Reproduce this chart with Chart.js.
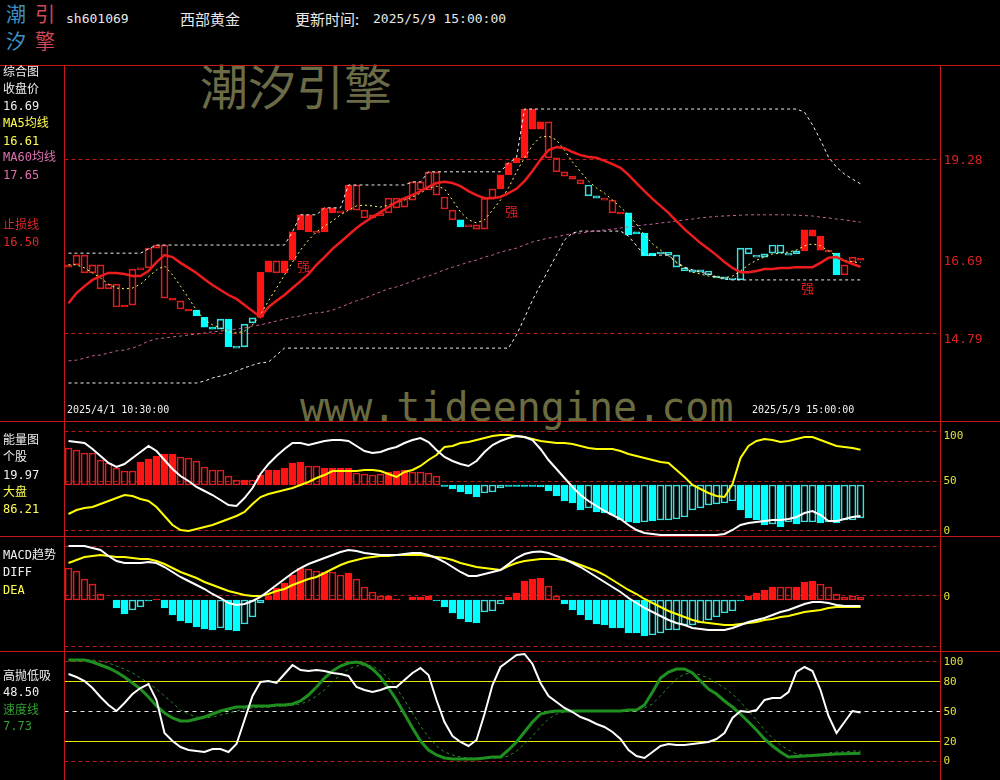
<!DOCTYPE html>
<html lang="zh-CN">
<head>
<meta charset="utf-8">
<title>西部黄金 sh601069</title>
<script src="https://cdn.jsdelivr.net/npm/chart.js@4.4.1/dist/chart.umd.min.js"></script>
<style>
  html, body { margin:0; padding:0; background:#000; }
  #wrap { position:relative; width:1000px; height:780px; overflow:hidden; background:#000;
          font-family:"DejaVu Sans Mono","Noto Sans CJK SC",monospace; }
  #wrap canvas { position:absolute; left:0; }
  .t { position:absolute; white-space:nowrap; line-height:1; }
  .lb { font-size:12px; left:3px; }
  .cjk { font-family:"Noto Sans CJK SC",sans-serif; }
  .hl { position:absolute; left:0; width:1000px; height:1px; background:#c81818; }
  .vl { position:absolute; top:65px; width:1px; height:715px; background:#c81818; }
</style>
</head>
<body>
<div id="wrap">
  <!-- watermarks, under the charts -->
  <div class="t cjk" style="left:200px;top:60px;font-size:48px;color:#6b6b48">潮汐引擎</div>
  <div class="t" style="left:300px;top:387px;font-size:40px;color:#6b6b40">www.tideengine.com</div>

  <canvas id="cPrice" width="1000" height="355" style="top:65px"></canvas>
  <canvas id="cEnergy" width="1000" height="115" style="top:421px"></canvas>
  <canvas id="cMacd" width="1000" height="115" style="top:536px"></canvas>
  <canvas id="cKd" width="1000" height="129" style="top:651px"></canvas>

  <!-- frame -->
  <div class="hl" style="top:65px"></div>
  <div class="hl" style="top:421px"></div>
  <div class="hl" style="top:536px"></div>
  <div class="hl" style="top:651px"></div>
  <div class="vl" style="left:64px"></div>
  <div class="vl" style="left:940px"></div>

  <!-- header -->
  <div class="t cjk" style="left:6px;top:4px;font-size:20px;color:#3d8fc6">潮</div>
  <div class="t cjk" style="left:35px;top:4px;font-size:20px;color:#d04858">引</div>
  <div class="t cjk" style="left:6px;top:31px;font-size:20px;color:#3d8fc6">汐</div>
  <div class="t cjk" style="left:35px;top:31px;font-size:20px;color:#d04858">擎</div>
  <div class="t" style="left:66px;top:12px;font-size:13px;color:#e8e8e8">sh601069</div>
  <div class="t cjk" style="left:180px;top:11px;font-size:15px;color:#e8e8e8">西部黄金</div>
  <div class="t cjk" style="left:295px;top:11px;font-size:15px;color:#e8e8e8">更新时间:</div>
  <div class="t" style="left:373px;top:12px;font-size:13px;color:#e8e8e8">2025/5/9 15:00:00</div>

  <!-- price panel labels -->
  <div class="t lb" style="top:66px;color:#f0f0f0">综合图</div>
  <div class="t lb" style="top:83px;color:#f0f0f0">收盘价</div>
  <div class="t lb" style="top:100px;color:#f0f0f0">16.69</div>
  <div class="t lb" style="top:117px;color:#ffff50">MA5均线</div>
  <div class="t lb" style="top:135px;color:#ffff50">16.61</div>
  <div class="t lb" style="top:151px;color:#e070b0">MA60均线</div>
  <div class="t lb" style="top:169px;color:#e070b0">17.65</div>
  <div class="t lb" style="top:219px;color:#e02828">止损线</div>
  <div class="t lb" style="top:236px;color:#e02828">16.50</div>
  <div class="t" style="left:67px;top:405px;font-size:10px;color:#f0f0f0">2025/4/1 10:30:00</div>
  <div class="t" style="left:752px;top:405px;font-size:10px;color:#f0f0f0">2025/5/9 15:00:00</div>
  <div class="t cjk" style="left:297px;top:259px;font-size:13px;color:#e02020">强</div>
  <div class="t cjk" style="left:505px;top:204px;font-size:13px;color:#e02020">强</div>
  <div class="t cjk" style="left:801px;top:281px;font-size:13px;color:#e02020">强</div>

  <!-- energy labels -->
  <div class="t lb" style="top:434px;color:#f0f0f0">能量图</div>
  <div class="t lb" style="top:451px;color:#f0f0f0">个股</div>
  <div class="t lb" style="top:469px;color:#f0f0f0">19.97</div>
  <div class="t lb" style="top:486px;color:#ffff50">大盘</div>
  <div class="t lb" style="top:503px;color:#ffff50">86.21</div>

  <!-- macd labels -->
  <div class="t lb" style="top:549px;color:#f0f0f0">MACD趋势</div>
  <div class="t lb" style="top:566px;color:#f0f0f0">DIFF</div>
  <div class="t lb" style="top:584px;color:#ffff50">DEA</div>

  <!-- kd labels -->
  <div class="t lb" style="top:670px;color:#f0f0f0">高抛低吸</div>
  <div class="t lb" style="top:686px;color:#f0f0f0">48.50</div>
  <div class="t lb" style="top:704px;color:#30a030">速度线</div>
  <div class="t lb" style="top:720px;color:#30a030">7.73</div>
</div>

<script>
// ---- price panel (hourly bars 2025/4/1 10:30 .. 2025/5/9 15:00) ----
const bodyHi = [16.55,16.80,16.80,16.55,16.55,16.05,16.05,15.51,16.44,16.47,
  16.98,17.06,17.06,15.69,15.62,15.41,15.38,15.20,14.94,15.15,
  15.15,14.45,15.02,15.18,16.36,16.65,16.65,16.65,17.40,17.84,
  17.84,17.42,18.02,18.02,17.94,18.61,18.61,17.96,17.84,17.89,
  18.27,18.27,18.27,18.69,18.69,18.95,18.95,18.30,17.96,17.71,
  17.58,17.58,18.27,18.51,18.87,19.18,19.31,20.57,20.57,20.24,
  20.24,19.31,18.95,18.84,18.74,18.61,18.33,18.27,18.22,17.91,
  17.89,17.40,17.37,16.85,16.88,16.88,16.80,16.47,16.42,16.42,
  16.39,16.26,16.24,16.21,16.98,16.98,16.80,16.83,17.06,17.06,
  16.85,16.91,17.45,17.45,17.29,16.93,16.85,16.55,16.75,16.72];
const bodyLo = [16.49,16.55,16.34,16.34,15.93,15.93,15.46,15.46,15.51,16.42,
  16.47,16.98,15.69,15.64,15.41,15.36,15.23,14.94,14.89,14.89,
  14.43,14.40,14.43,15.05,15.20,16.36,16.34,16.34,16.67,17.45,
  17.40,17.37,17.40,17.89,17.89,17.96,17.96,17.76,17.76,17.81,
  17.89,18.02,18.04,18.22,18.48,18.48,18.35,17.99,17.71,17.53,
  17.53,17.47,17.47,18.27,18.51,18.87,19.18,19.31,20.05,20.05,
  19.31,18.95,18.84,18.76,18.64,18.33,18.27,18.22,17.89,17.86,
  17.32,17.35,16.78,16.78,16.83,16.80,16.49,16.39,16.36,16.36,
  16.29,16.21,16.18,16.16,16.16,16.83,16.75,16.75,16.85,16.85,
  16.80,16.83,16.91,17.29,16.93,16.88,16.29,16.29,16.62,16.67];
// R filled red, r hollow red, C filled cyan, c hollow cyan
const candleStyle = 'rrrrrrrRrr' + 'rrrRrRCCCc' + 'CcccRRrRRR' + 'RrRRrRrrrr' + 'rrrrrrrrrC' +
                    'rrrrRRRRRR' + 'rrrrrccrrR' + 'CCCCcccccc' + 'cccccccccc' + 'ccRRRrCrrR';
const stopLine = [15.56,15.82,16.00,16.16,16.26,16.34,16.34,16.31,16.26,16.26,
  16.39,16.62,16.80,16.75,16.60,16.47,16.34,16.18,16.03,15.90,
  15.77,15.67,15.51,15.36,15.20,15.46,15.62,15.77,15.95,16.13,
  16.31,16.55,16.75,16.96,17.14,17.32,17.50,17.65,17.78,17.91,
  18.04,18.17,18.27,18.35,18.45,18.56,18.66,18.69,18.66,18.58,
  18.45,18.35,18.27,18.27,18.30,18.40,18.51,18.71,18.97,19.26,
  19.51,19.59,19.56,19.46,19.38,19.33,19.31,19.23,19.15,19.05,
  18.87,18.66,18.45,18.25,18.07,17.89,17.68,17.47,17.29,17.11,
  16.96,16.80,16.62,16.47,16.36,16.36,16.39,16.44,16.44,16.47,
  16.47,16.49,16.49,16.49,16.60,16.73,16.75,16.65,16.57,16.50];
const ma5 = [16.55,16.55,16.47,16.34,16.21,16.05,15.95,15.93,15.95,16.05,
  16.24,16.42,16.52,16.29,16.00,15.69,15.38,15.13,15.00,14.92,
  14.82,14.79,14.84,15.00,15.26,15.62,15.95,16.29,16.62,16.93,
  17.19,17.40,17.55,17.68,17.84,17.96,18.07,18.09,18.07,18.04,
  18.09,18.17,18.22,18.30,18.40,18.53,18.58,18.51,18.22,17.91,
  17.71,17.63,17.71,17.96,18.22,18.53,18.95,19.31,19.64,19.85,
  19.87,19.77,19.51,19.20,18.95,18.71,18.53,18.40,18.22,18.04,
  17.84,17.60,17.32,17.09,16.93,16.78,16.60,16.47,16.36,16.31,
  16.26,16.24,16.21,16.26,16.39,16.55,16.67,16.75,16.83,16.85,
  16.88,16.93,17.04,17.09,17.04,16.91,16.78,16.67,16.62,16.61];
const ma60 = [14.07,14.09,14.14,14.20,14.22,14.27,14.33,14.35,14.40,14.48,
  14.58,14.64,14.66,14.69,14.71,14.74,14.76,14.79,14.82,14.84,
  14.87,14.89,14.92,14.97,15.00,15.05,15.10,15.15,15.20,15.23,
  15.28,15.31,15.33,15.38,15.46,15.54,15.62,15.69,15.77,15.85,
  15.93,15.98,16.05,16.13,16.21,16.26,16.34,16.42,16.49,16.55,
  16.62,16.67,16.75,16.80,16.88,16.93,16.98,17.06,17.14,17.19,
  17.24,17.27,17.32,17.35,17.37,17.40,17.42,17.45,17.47,17.50,
  17.53,17.55,17.58,17.60,17.63,17.65,17.68,17.71,17.73,17.76,
  17.78,17.80,17.81,17.82,17.83,17.84,17.84,17.84,17.84,17.84,
  17.84,17.83,17.82,17.81,17.78,17.76,17.73,17.71,17.68,17.65];
const bandUp = [16.85,16.85,16.85,16.85,16.85,16.85,16.85,16.85,16.85,16.85,
  16.96,17.06,17.06,17.06,17.06,17.06,17.06,17.06,17.06,17.06,
  17.06,17.06,17.06,17.06,17.06,17.06,17.06,17.06,17.40,17.84,
  17.84,17.84,18.02,18.02,18.02,18.61,18.61,18.61,18.61,18.61,
  18.61,18.61,18.61,18.69,18.69,18.95,18.95,18.95,18.95,18.95,
  18.95,18.95,18.95,18.95,18.95,19.18,19.31,20.57,20.57,20.57,
  20.57,20.57,20.57,20.57,20.57,20.57,20.57,20.57,20.57,20.57,
  20.57,20.57,20.57,20.57,20.57,20.57,20.57,20.57,20.57,20.57,
  20.57,20.57,20.57,20.57,20.57,20.57,20.57,20.57,20.57,20.57,
  20.57,20.57,20.49,20.16,19.77,19.33,19.07,18.89,18.76,18.64];
const bandDn = [13.50,13.50,13.50,13.50,13.50,13.50,13.50,13.50,13.50,13.50,
  13.50,13.50,13.50,13.50,13.50,13.50,13.50,13.55,13.63,13.68,
  13.73,13.81,13.89,13.96,14.02,14.04,14.22,14.40,14.40,14.40,
  14.40,14.40,14.40,14.40,14.40,14.40,14.40,14.40,14.40,14.40,
  14.40,14.40,14.40,14.40,14.40,14.40,14.40,14.40,14.40,14.40,
  14.40,14.40,14.40,14.40,14.40,14.40,14.74,15.18,15.64,16.03,
  16.42,16.80,17.19,17.37,17.42,17.42,17.42,17.42,17.42,17.42,
  17.29,17.04,16.80,16.80,16.80,16.80,16.62,16.49,16.42,16.36,
  16.31,16.24,16.18,16.16,16.16,16.16,16.16,16.16,16.16,16.16,
  16.16,16.16,16.16,16.16,16.16,16.16,16.16,16.16,16.16,16.16];
const priceTicks = [14.61, 16.62, 19.23];
const priceTickLabels = ['14.79', '16.69', '19.28'];

// ---- energy panel ----
const energyBase = 51;
const energyBar = [88,86,83,83,76,73,68,65,65,74,
  77,80,82,82,79,78,75,69,66,66,
  60,56,56,56,61,66,66,68,73,74,
  70,70,68,68,68,68,63,62,61,62,
  64,65,66,64,64,63,60,49.5,47,44,
  42,39,43,44,48,49.5,49.5,49.7,49.5,49,
  45,40,35,33,26,28,24,23,21,16,
  14,13,14,15,16,16,17,19,26,28,
  31,32,33,35,26,18,16,11,12,9,
  14,12,14,14,13,14,13,16,16,18];
const energyStyle = 'rrrrrrrrrR' + 'RRRRrrrrrr' + 'rrRrRRRRRR' + 'rrRRRRrrrr' + 'RRRrrrrCCC' +
                    'CCcccCCCCC' + 'CCCCCcCCCC' + 'CCcCcccccc' + 'ccccCCCCcC' + 'cCccCcCccc';
const stockLine = [95,94,93,87,80,73,69,72,78,84,
  90,85,76,67,60,55,49,45,41,36,
  31,30,38,48,62,72,80,87,93,93,
  91,93,95,96,96,95,90,85,83,84,
  87,89,93,96,98,94,86,79,75,72,
  70,75,84,91,95,98,100,99,96,87,
  76,67,58,49,41,35,30,25,21,17,
  11,6,3,2,1,1,1,1,1,1,
  1,1,2,6,11,13,14,15,16,16,
  17,19,23,25,21,15,15,17,19,19.97];
const marketLine = [22,26,28,29,32,35,38,41,40,37,
  35,29,20,11,6,5,7,9,11,14,
  17,20,24,32,39,42,44,46,48,51,
  54,58,61,65,65,65,65,66,66,65,
  62,59,64,66,70,76,81,89,90,93,
  94,96,98,100,101,101,100,99,97,95,
  94,93,93,92,90,88,87,87,87,85,
  82,80,78,76,74,73,66,59,51,47,
  43,40,39,52,78,90,95,97,96,94,
  95,97,99,99,96,93,90,89,88,86.21];
const energyTicks = [5, 55, 99.5];
const energyTickLabels = ['0', '50', '100'];

// ---- MACD panel ----
const macdBar = [0.32,0.29,0.21,0.16,0.06,0,-0.08,-0.14,-0.10,-0.07,
  -0.01,0.01,-0.08,-0.15,-0.21,-0.23,-0.27,-0.29,-0.30,-0.28,
  -0.30,-0.31,-0.24,-0.17,-0.03,0.04,0.12,0.17,0.25,0.32,
  0.31,0.29,0.28,0.28,0.25,0.27,0.21,0.13,0.08,0.04,
  0.04,0.01,0,0.03,0.03,0.04,-0.01,-0.07,-0.13,-0.19,
  -0.22,-0.23,-0.12,-0.11,-0.04,0.03,0.07,0.19,0.21,0.22,
  0.14,0.04,-0.04,-0.10,-0.15,-0.20,-0.24,-0.25,-0.28,-0.28,
  -0.33,-0.33,-0.36,-0.35,-0.33,-0.30,-0.30,-0.25,-0.25,-0.23,
  -0.20,-0.17,-0.13,-0.11,-0.01,0.04,0.07,0.10,0.13,0.13,
  0.13,0.13,0.18,0.19,0.16,0.13,0.06,0.03,0.04,0.03];
const macdStyle = 'rrrrrrCCcc' + 'CRCCCCCCCc' + 'CCcccRRRRR' + 'rrRrrRrrrr' + 'RRRRRRCCCC' +
                  'CCcccRRRRR' + 'rrCCCCCCCC' + 'CCCccccccc' + 'ccccCRRRRr' + 'rRRRrrrrrr';
const diff = [0.54,0.54,0.54,0.52,0.50,0.44,0.39,0.37,0.37,0.37,
  0.38,0.37,0.33,0.28,0.23,0.19,0.15,0.11,0.06,0.02,
  -0.03,-0.05,-0.04,-0.01,0.03,0.09,0.15,0.21,0.27,0.32,
  0.36,0.39,0.42,0.45,0.48,0.50,0.49,0.47,0.46,0.45,
  0.45,0.45,0.46,0.47,0.47,0.45,0.42,0.38,0.33,0.28,
  0.24,0.24,0.26,0.28,0.30,0.36,0.42,0.46,0.48,0.485,
  0.47,0.44,0.41,0.37,0.33,0.28,0.23,0.18,0.13,0.08,
  0.02,-0.03,-0.08,-0.12,-0.16,-0.20,-0.23,-0.25,-0.28,-0.29,
  -0.30,-0.30,-0.30,-0.28,-0.25,-0.22,-0.20,-0.18,-0.15,-0.12,
  -0.10,-0.07,-0.04,-0.02,-0.02,-0.03,-0.05,-0.06,-0.06,-0.06];
const dea = [0.37,0.40,0.43,0.44,0.45,0.44,0.43,0.43,0.42,0.41,
  0.41,0.39,0.36,0.32,0.28,0.25,0.22,0.18,0.15,0.12,
  0.09,0.07,0.05,0.04,0.04,0.06,0.09,0.11,0.15,0.18,
  0.21,0.23,0.27,0.31,0.35,0.38,0.40,0.42,0.43,0.44,
  0.44,0.45,0.45,0.45,0.45,0.44,0.43,0.42,0.40,0.37,
  0.35,0.33,0.32,0.31,0.30,0.34,0.37,0.39,0.40,0.41,
  0.41,0.41,0.40,0.38,0.35,0.32,0.29,0.25,0.20,0.15,
  0.10,0.06,0.01,-0.03,-0.07,-0.11,-0.14,-0.17,-0.20,-0.22,
  -0.23,-0.24,-0.25,-0.25,-0.24,-0.23,-0.22,-0.20,-0.19,-0.17,
  -0.16,-0.14,-0.12,-0.11,-0.10,-0.08,-0.07,-0.07,-0.07,-0.07];
const macdTicks = [0.033];
const macdTickLabels = ['0'];

// ---- 高抛低吸 panel ----
const swingLine = [87,84,80,73,64,56,50,58,67,73,
  77,61,28,20,14,11,10,9,12,12,
  9,17,41,65,79,80,78,87,96,91,
  90,91,90,88,87,85,74,71,69,71,
  74,74,81,88,93,86,61,39,25,19,
  15,21,47,76,94,100,106,107,97,78,
  65,59,53,49,44,41,37,34,29,22,
  11,5,3,9,15,17,16,16,17,18,
  19,22,28,43,50,49,51,61,63,63,
  69,89,94,90,71,45,28,39,50,48.5];
const speedLine = [101,101,101,99,96,93,89,84,78,72,
  64,55,48,43,40,40,42,44,47,50,
  52,54,54,55,55,55,56,56,57,60,
  66,74,83,90,95,98,99,97,92,84,
  73,61,47,33,20,11,6,3,2,2,
  2,2,3,4,4,11,19,29,39,47,
  49,50,50,50,50,50,50,50,50,50,
  51,51,56,69,83,89,92,92,88,80,
  72,67,60,54,47,39,31,22,15,9,
  4,4.5,5,5.5,6,6.5,7,7.3,7.5,7.73];
const speedSlow = [101,101,101,101,100,98,95,92,88,83,
  78,72,65,58,51,47,44,43,44,46,
  48,50,52,53,54,54,55,55,56,57,
  60,65,71,79,86,92,95,96,95,90,
  83,73,61,48,35,24,15,9,6,4,
  3,3,3,3,3,5,10,17,25,34,
  42,47,49,50,50,50,50,50,50,50,
  50,51,53,57,65,74,82,87,88,86,
  83,78,73,67,59,50,41,31,23,16,
  11,7,6,6,7,8,9,9,10,10];
const kdTicks = [-0.5, 18.5, 48.5, 79, 99];
const kdTickLabels = ['0', '20', '50', '80', '100'];

// ---- drawing ----
const RED = '#ff1414', RED_EDGE = '#e01c1c', CYAN = '#00ffff', CYAN_EDGE = '#38e0e0';
const GRID_RED = '#b81a1a';
function fillOf(s) { return s === 'R' ? RED : s === 'C' ? CYAN : 'rgba(0,0,0,0)'; }
function edgeOf(s) { return s === 'R' ? RED : s === 'r' ? RED_EDGE : s === 'C' ? CYAN : CYAN_EDGE; }
function pts(a) { return a.map((v, i) => ({ x: i, y: v })); }
function floatBars(a, base) {
  return a.map((v, i) => ({ x: i, y: v === 0 ? null : (v >= base ? [base, v] : [v, base]) }));
}
function lineDs(data, color, width, dash, order) {
  return { type: 'line', data: pts(data), borderColor: color, borderWidth: width,
           borderDash: dash || [], pointRadius: 0, tension: 0, fill: false, order: order || 1 };
}
function barDs(data, styles) {
  return { type: 'bar', data: data, barThickness: 7, borderWidth: 1, borderSkipped: false,
           backgroundColor: styles.split('').map(fillOf), borderColor: styles.split('').map(edgeOf),
           order: 10 };
}

// horizontal reference lines drawn through the y scale
const refLines = {
  id: 'refLines',
  beforeDatasetsDraw(chart, args, opts) {
    const { ctx, chartArea: a } = chart, y = chart.scales.y;
    (opts.lines || []).forEach(l => {
      const py = Math.round(y.getPixelForValue(l.v)) + 0.5;
      ctx.save();
      ctx.strokeStyle = l.c; ctx.lineWidth = 1; ctx.setLineDash(l.d || []);
      ctx.beginPath(); ctx.moveTo(a.left, py); ctx.lineTo(a.right, py); ctx.stroke();
      ctx.restore();
    });
  }
};

function panel(id, min, max, datasets, ticks, labels, tickColor, tickSize, lines) {
  return new Chart(document.getElementById(id), {
    type: 'bar',
    data: { datasets: datasets },
    options: {
      responsive: false, animation: false, devicePixelRatio: 1, events: [],
      layout: { padding: { left: 64.5, right: 0, top: 0, bottom: 0 } },
      plugins: { legend: { display: false }, tooltip: { enabled: false }, refLines: { lines: lines } },
      scales: {
        x: { type: 'linear', min: -0.5, max: 109, offset: false, display: false },
        y: {
          position: 'right', min: min, max: max, beginAtZero: false,
          grid: { display: false, drawTicks: false }, border: { display: false },
          afterBuildTicks: s => { s.ticks = ticks.map(v => ({ value: v })); },
          afterFit: s => { s.width = 59.5; s.paddingTop = 0; s.paddingBottom = 0; },
          ticks: { autoSkip: false, padding: 3, color: tickColor,
                   font: { family: 'DejaVu Sans Mono', size: tickSize },
                   callback: (v, i) => labels[i] }
        }
      }
    },
    plugins: [refLines]
  });
}

const candles = bodyHi.map((h, i) => ({ x: i, y: [bodyLo[i], h] }));
panel('cPrice', 12.545, 21.706, [
  lineDs(stopLine, '#ee1c1c', 2.5, null, 0),
  lineDs(ma5, '#ffff66', 1, [2, 3], 1),
  lineDs(ma60, '#c8609a', 1, [3, 3], 2),
  lineDs(bandUp, '#f0f0f0', 1, [3, 3], 2),
  lineDs(bandDn, '#f0f0f0', 1, [3, 3], 2),
  barDs(candles, candleStyle)
], priceTicks, priceTickLabels, '#d82020', 13,
  [{ v: 19.28, c: GRID_RED, d: [4, 3] }, { v: 14.79, c: GRID_RED, d: [4, 3] }]);

panel('cEnergy', 0, 115, [
  lineDs(stockLine, '#ffffff', 2, null, 0),
  lineDs(marketLine, '#ffff00', 2, null, 1),
  barDs(floatBars(energyBar, energyBase), energyStyle)
], energyTicks, energyTickLabels, '#e0e040', 11,
  [{ v: 105, c: GRID_RED, d: [4, 3] }, { v: 55.5, c: GRID_RED, d: [4, 3] }, { v: 6, c: GRID_RED, d: [4, 3] }]);

panel('cMacd', -0.51, 0.64, [
  lineDs(diff, '#ffffff', 2, null, 0),
  lineDs(dea, '#ffff00', 2, null, 1),
  barDs(floatBars(macdBar, 0), macdStyle)
], macdTicks, macdTickLabels, '#e0e040', 11,
  [{ v: 0.54, c: GRID_RED, d: [4, 3] }, { v: 0.05, c: GRID_RED, d: [4, 3] }, { v: -0.455, c: GRID_RED, d: [4, 3] }]);

panel('cKd', -19, 110, [
  lineDs(swingLine, '#ffffff', 2, null, 0),
  lineDs(speedLine, '#1f8f1f', 3, null, 1),
  lineDs(speedSlow, '#2a8a2a', 1, [3, 3], 2)
], kdTicks, kdTickLabels, '#e0e040', 11,
  [{ v: 100, c: GRID_RED, d: [4, 3] }, { v: 80, c: '#e6e600' }, { v: 50, c: '#e8e8e8', d: [4, 4] },
   { v: 20, c: '#e6e600' }, { v: 0, c: GRID_RED, d: [4, 3] }]);
</script>
</body>
</html>
